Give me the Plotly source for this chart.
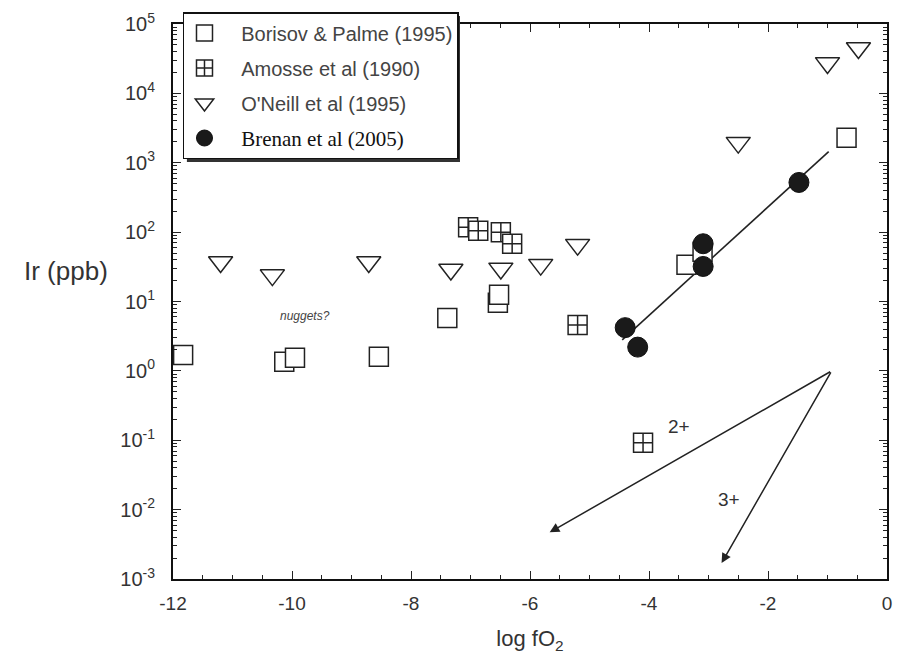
import math
import plotly.graph_objects as go

# ---------------- data ----------------
borisov_x = [-11.83, -10.13, -9.95, -8.54, -7.39, -6.54, -6.52, -3.37, -3.1, -0.68]
borisov_y = [1.7, 1.35, 1.55, 1.6, 5.8, 9.6, 12.5, 34, 52, 2300]

amosse_x = [-7.04, -6.87, -6.49, -6.3, -5.2, -4.1]
amosse_y = [118, 105, 100, 68, 4.6, 0.092]

oneill_x = [-11.2, -10.33, -8.71, -7.33, -6.49, -5.82, -5.2, -2.5, -1.0, -0.48]
oneill_y = [37, 24, 37, 29, 30, 34, 66, 1950, 27500, 45000]

brenan_x = [-4.40, -4.19, -3.09, -3.09, -1.48]
brenan_y = [4.2, 2.2, 68, 32, 520]

fit_x = [-4.45, -0.98]
fit_y = [2.8, 1450]

# valence arrows: common origin, end points
arrow_origin = (-0.93, 1.0)
arrow2_end = (-5.67, 0.0047)
arrow3_end = (-2.78, 0.0017)

xtick_vals = [-12, -10, -8, -6, -4, -2, 0]
xtick_text = ["-12", "-10", "-8", "-6", "-4", "-2", "0"]
ytick_exp = [-3, -2, -1, 0, 1, 2, 3, 4, 5]

SANS = "Liberation Sans, Arial, sans-serif"
SP = "\u00a0\u00a0\u00a0"

# ---------------- figure ----------------
fig = go.Figure()
fig.add_trace(go.Scatter(x=fit_x, y=fit_y, mode="lines",
                         line=dict(color="#222", width=1.6),
                         showlegend=False, hoverinfo="skip"))
fig.add_trace(go.Scatter(x=borisov_x, y=borisov_y, mode="markers",
                         name=SP + "Borisov & Palme (1995)", legendgroup="a",
                         marker=dict(symbol="square", size=19, color="white",
                                     line=dict(color="#222", width=1.5))))
fig.add_trace(go.Scatter(x=amosse_x, y=amosse_y, mode="markers",
                         name=SP + "Amosse et al (1990)", legendgroup="b",
                         marker=dict(symbol="square-cross", size=19, color="white",
                                     line=dict(color="#222", width=1.5))))
fig.add_trace(go.Scatter(x=oneill_x, y=oneill_y, mode="markers",
                         name=SP + "O'Neill et al (1995)", legendgroup="c",
                         marker=dict(symbol="triangle-down", size=21, color="white",
                                     line=dict(color="#222", width=1.5))))
fig.add_trace(go.Scatter(x=brenan_x, y=brenan_y, mode="markers",
                         name=SP + '<span style="font-family:\'Liberation Serif\', \'Times New Roman\', serif; font-size:21px; fill:#111">Brenan et al (2005)</span>',
                         legendgroup="d",
                         marker=dict(symbol="circle", size=20, color="#1a1a1a",
                                     line=dict(color="#111", width=1))))

annotations = []
for end in (arrow2_end, arrow3_end):
    annotations.append(dict(
        x=end[0], y=math.log10(end[1]), xref="x", yref="y",
        ax=arrow_origin[0], ay=math.log10(arrow_origin[1]), axref="x", ayref="y",
        showarrow=True, arrowhead=2, arrowsize=1.3, arrowwidth=1.5,
        arrowcolor="#222", text=""))
annotations += [
    dict(x=-3.5, y=math.log10(0.16), xref="x", yref="y", text="2+",
         showarrow=False, font=dict(size=19, color="#333", family=SANS)),
    dict(x=-2.65, y=math.log10(0.0138), xref="x", yref="y", text="3+",
         showarrow=False, font=dict(size=19, color="#333", family=SANS)),
    dict(x=-9.78, y=math.log10(6.2), xref="x", yref="y", text="<i>nuggets?</i>",
         showarrow=False, font=dict(size=12, color="#444", family=SANS)),
    dict(x=-0.150, y=0.555, xref="paper", yref="paper", xanchor="center", yanchor="middle",
         text="Ir (ppb)", showarrow=False,
         font=dict(size=26, color="#333", family=SANS)),
]

fig.update_layout(
    width=902, height=668,
    margin=dict(l=173, r=10, t=24, b=89),
    paper_bgcolor="white", plot_bgcolor="white",
    font=dict(family=SANS, color="#333"),
    annotations=annotations,
    showlegend=True,
    legend=dict(x=0.014, y=1.0216, xanchor="left", yanchor="top",
                bgcolor="white", bordercolor="#111", borderwidth=1.5,
                font=dict(size=20, color="#444", family=SANS),
                tracegroupgap=6, itemsizing="trace"),
    shapes=[dict(type="rect", xref="paper", yref="paper",
                 x0=(187 - 173) / 719, x1=(462 - 173) / 719,
                 y0=(579 - 162) / 555, y1=(579 - 16) / 555,
                 fillcolor="#333", line=dict(width=0), layer="above")],
)

fig.update_xaxes(range=[-12, 0], tickmode="array", tickvals=xtick_vals, ticktext=xtick_text,
                 ticks="inside", ticklen=8, tickwidth=1.3, tickcolor="#222",
                 minor=dict(ticks="inside", dtick=0.5, ticklen=4, tickcolor="#222"),
                 showline=True, linecolor="#111", linewidth=2, mirror="ticks",
                 showgrid=False, zeroline=False, ticklabelstandoff=6,
                 tickfont=dict(size=19, color="#333"),
                 title=dict(text="log fO<sub>2</sub>", font=dict(size=22, color="#333"), standoff=18))
fig.update_yaxes(type="log", range=[-3, 5], tickmode="array",
                 tickvals=[10 ** e for e in ytick_exp],
                 ticktext=["10<sup>%d</sup>" % e for e in ytick_exp],
                 ticks="inside", ticklen=8, tickwidth=1.3, tickcolor="#222",
                 minor=dict(ticks="inside", dtick="D1", ticklen=4, tickcolor="#222"),
                 showline=True, linecolor="#111", linewidth=2, mirror="ticks",
                 showgrid=False, zeroline=False, ticklabelstandoff=12,
                 tickfont=dict(size=20, color="#333"))

fig.write_html("out.html")
